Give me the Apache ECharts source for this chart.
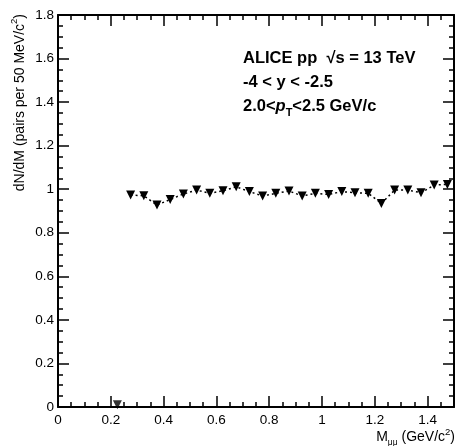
<!DOCTYPE html>
<html>
<head>
<meta charset="utf-8">
<script src="https://cdn.jsdelivr.net/npm/echarts@6/dist/echarts.min.js"></script>
<style>
  html, body { margin: 0; padding: 0; background: #fff; }
  #chart { width: 457px; height: 446px; }
</style>
</head>
<body>
<div id="chart"></div>
<script>
// Dimuon invariant-mass bins (bin centres, GeV/c^2) and yields
const massBins = [0.275, 0.325, 0.375, 0.425, 0.475, 0.525, 0.575, 0.625, 0.675, 0.725,
                  0.775, 0.825, 0.875, 0.925, 0.975, 1.025, 1.075, 1.125, 1.175, 1.225,
                  1.275, 1.325, 1.375, 1.425, 1.475];
const yieldValues = [0.973, 0.970, 0.927, 0.953, 0.978, 0.996, 0.981, 0.993, 1.011, 0.989,
                     0.969, 0.981, 0.992, 0.969, 0.981, 0.976, 0.989, 0.984, 0.981, 0.935,
                     0.996, 0.996, 0.984, 1.019, 1.022];
// Threshold bin, drawn on its own
const thresholdBin = [0.225];
const thresholdValue = [0.01];

const xTicks = ['0', '0.2', '0.4', '0.6', '0.8', '1', '1.2', '1.4'];
const yTicks = ['0', '0.2', '0.4', '0.6', '0.8', '1', '1.2', '1.4', '1.6', '1.8'];

const FONT = '"Liberation Sans", Arial, Helvetica, sans-serif';
const chart = echarts.init(document.getElementById('chart'), null, { renderer: 'canvas' });

function axisBase(showLabels, extra) {
  return Object.assign({
    axisLine: { show: true, onZero: false, lineStyle: { color: '#000', width: 2 } },
    axisTick: { show: true, inside: true, length: 11, lineStyle: { color: '#000', width: 1.5 } },
    minorTick: { show: true, splitNumber: 4, length: 5, lineStyle: { color: '#000', width: 1.5 } },
    splitLine: { show: false },
    axisLabel: { show: showLabels, color: '#000', fontSize: 13, fontFamily: FONT }
  }, extra);
}

const pts = massBins.map((m, i) => [m, yieldValues[i]]);
const lowPts = thresholdBin.map((m, i) => [m, thresholdValue[i]]);

chart.setOption({
  animation: false,
  backgroundColor: '#fff',
  grid: { left: 58, right: 3, top: 15, bottom: 39, containLabel: false },
  xAxis: [
    axisBase(true, {
      type: 'value', min: 0, max: 1.5, interval: 0.2, position: 'bottom',
      axisLabel: { show: true, color: '#000', fontSize: 13.5, fontFamily: FONT, margin: 6,
        showMaxLabel: false,
        formatter: v => { const i = Math.round(v / 0.2); return Math.abs(v - i * 0.2) < 1e-6 ? (xTicks[i] || '') : ''; } }
    }),
    axisBase(false, { type: 'value', min: 0, max: 1.5, interval: 0.2, position: 'top' })
  ],
  yAxis: [
    axisBase(true, {
      type: 'value', min: 0, max: 1.8, interval: 0.2, position: 'left',
      axisLabel: { show: true, color: '#000', fontSize: 13.5, fontFamily: FONT, margin: 4,
        formatter: v => yTicks[Math.round(v / 0.2)] || '' }
    }),
    axisBase(false, { type: 'value', min: 0, max: 1.8, interval: 0.2, position: 'right' })
  ],
  graphic: [
    {
      type: 'text', x: 18, y: 14, rotation: Math.PI / 2,
      style: {
        text: '{t|dN/dM (pairs per 50 MeV/c}{s|2}{t|)}',
        align: 'right', verticalAlign: 'middle', fill: '#000',
        rich: {
          t: { fontSize: 14, fontFamily: FONT, lineHeight: 18, verticalAlign: 'bottom' },
          s: { fontSize: 9.5, fontFamily: FONT, lineHeight: 18, verticalAlign: 'top' }
        }
      }
    },
    {
      type: 'text', x: 455, y: 437,
      style: {
        text: '{t|M}{u|μμ}{t| (GeV/c}{s|2}{t|)}',
        align: 'right', verticalAlign: 'middle', fill: '#000',
        rich: {
          t: { fontSize: 14, fontFamily: FONT, lineHeight: 20, verticalAlign: 'middle' },
          u: { fontSize: 8.5, fontFamily: FONT, lineHeight: 20, verticalAlign: 'bottom' },
          s: { fontSize: 9.5, fontFamily: FONT, lineHeight: 20, verticalAlign: 'top' }
        }
      }
    },
    {
      type: 'text', x: 243, y: 58,
      style: {
        text: '{b|ALICE pp  }{r|√}{b|s = 13 TeV}',
        verticalAlign: 'middle', fill: '#000',
        rich: {
          b: { fontSize: 16.5, fontWeight: 'bold', fontFamily: FONT },
          r: { fontSize: 16.5, fontWeight: 'bold', fontFamily: FONT }
        }
      }
    },
    {
      type: 'text', x: 243, y: 82,
      style: { text: '-4 < y < -2.5', verticalAlign: 'middle', fill: '#000',
        fontSize: 16.5, fontWeight: 'bold', fontFamily: FONT }
    },
    {
      type: 'text', x: 243, y: 106,
      style: {
        text: '{b|2.0<}{i|p}{u|T}{b|<2.5 GeV/c}',
        verticalAlign: 'middle', fill: '#000',
        rich: {
          b: { fontSize: 16.5, fontWeight: 'bold', fontFamily: FONT, lineHeight: 24, verticalAlign: 'middle' },
          i: { fontSize: 16.5, fontWeight: 'bold', fontStyle: 'italic', fontFamily: FONT, lineHeight: 24, verticalAlign: 'middle' },
          u: { fontSize: 11, fontWeight: 'bold', fontFamily: FONT, lineHeight: 24, verticalAlign: 'bottom' }
        }
      }
    }
  ],
  series: [
    {
      type: 'line', xAxisIndex: 0, yAxisIndex: 0, data: pts,
      symbol: 'triangle', symbolRotate: 180, symbolSize: 9,
      itemStyle: { color: '#000' },
      lineStyle: { color: '#000', width: 1.5, type: [2, 3] },
      z: 5
    },
    {
      type: 'scatter', xAxisIndex: 0, yAxisIndex: 0, data: lowPts,
      symbol: 'triangle', symbolRotate: 180, symbolSize: 9,
      itemStyle: { color: '#000' }, z: 5
    }
  ]
});
</script>
</body>
</html>
